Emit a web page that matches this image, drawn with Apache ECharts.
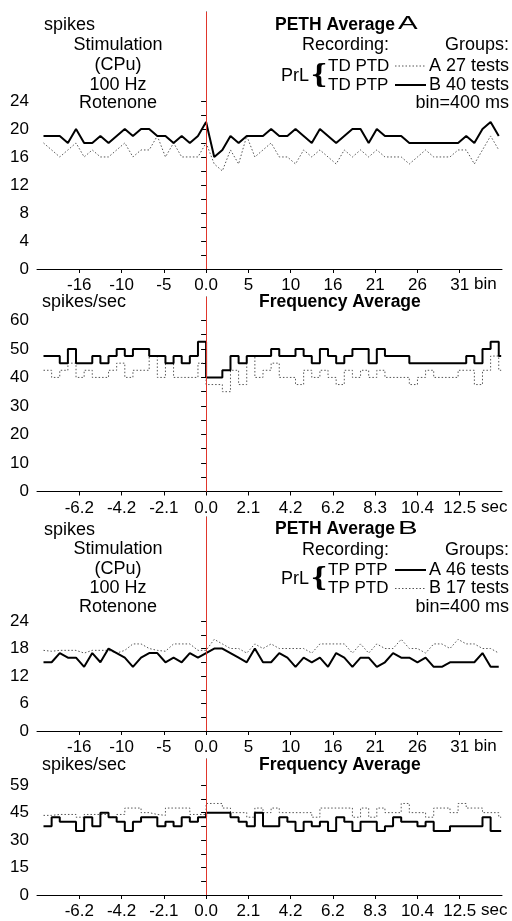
<!DOCTYPE html>
<html><head><meta charset="utf-8">
<script src="https://cdn.jsdelivr.net/npm/echarts@6.0.0/dist/echarts.min.js"></script>
<style>html,body{margin:0;padding:0;background:#fff;}#c{width:512px;height:921px;}</style>
</head><body><div id="c"></div>
<script>
// ---------- DATA ----------
const bins = [-20,-19,-18,-17,-16,-15,-14,-13,-12,-11,-10,-9,-8,-7,-6,-5,-4,-3,-2,-1,0,
  1,2,3,4,5,6,7,8,9,10,11,12,13,14,15,16,17,18,19,20,21,22,23,24,25,26,27,28,29,30,31,32,33,34,35,36];
const recordEnd = 36.3;

// PETH Average A (spikes per bin)
const pethA_groupA = [18,17,16,17,18,16,17,16,16,17,18,16,17,17,19,16,18,16,16,16,18,
  15,14,17,15,19,16,17,18,16,16,15,17,16,17,16,15,17,16,17,16,17,16,16,16,15,16,17,16,16,16,17,17,15,17,19,17];
const pethA_groupB = [19,19,19,18,20,18,18,19,18,19,20,19,20,20,19,19,18,19,18,19,21,
  16,17,19,18,19,19,19,20,19,19,20,19,18,20,19,18,19,20,20,18,20,19,19,19,18,18,18,18,18,18,18,19,18,20,21,19];
// Frequency Average A (spikes/sec, one value per step segment)
const freqA_groupA = [42.5,40,42.5,45,40,42.5,40,40,42.5,45,40,42.5,42.5,47.5,40,45,40,40,40,45,
  37.5,37.5,35,42.5,37.5,47.5,40,42.5,45,40,40,37.5,42.5,40,42.5,40,37.5,42.5,40,42.5,
  40,42.5,40,40,40,37.5,40,42.5,40,40,40,42.5,42.5,37.5,42.5,47.5,42.5];
const freqA_groupB = [47.5,47.5,45,50,45,45,47.5,45,47.5,50,47.5,50,50,47.5,47.5,45,47.5,45,47.5,52.5,
  40,40,42.5,47.5,45,47.5,47.5,47.5,50,47.5,47.5,50,47.5,45,50,47.5,45,47.5,50,50,
  45,50,47.5,47.5,47.5,45,45,45,45,45,45,45,47.5,45,50,52.5,47.5];
// PETH Average B
const pethB_groupA = [15,15,17,16,16,14,17,15,18,17,16,14,16,17,17,15,16,15,17,16,17,
  18,18,17,16,15,18,15,15,17,16,14,16,15,16,14,17,16,14,16,16,14,15,17,16,16,15,16,14,14,15,15,15,15,17,14,14];
const pethB_groupB = [17.6,17.4,17.6,17.6,17.6,17,17.6,17.6,17.6,17,17.6,19,19,18,17.6,17.4,19,19,19,17.6,17.6,
  20,19,18,18,17,19,18,19,18,18,18,18,17,19,19,19,19,17,19,17,19,18,18,20,18,18,17,19,19,18,20,19,19,18,18,17];
// Frequency Average B
const freqB_groupA = [37.5,42.5,40,40,35,42.5,37.5,45,42.5,40,35,40,42.5,42.5,37.5,40,37.5,42.5,40,42.5,
  45,45,45,42.5,40,37.5,45,37.5,37.5,42.5,40,35,40,37.5,40,35,42.5,40,35,40,
  40,35,37.5,42.5,40,40,37.5,40,35,35,37.5,37.5,37.5,37.5,42.5,35,35];
const freqB_groupB = [43.5,44,44,44,42.5,44,44,44,42.5,44,47.5,47.5,45,44,43.5,47.5,47.5,47.5,44,44,
  50,50,47.5,45,45,42.5,47.5,45,47.5,45,45,45,45,42.5,47.5,47.5,47.5,47.5,42.5,47.5,
  42.5,47.5,45,45,50,45,45,42.5,47.5,47.5,45,50,47.5,47.5,45,45,42.5];

// Tick values & labels
const xTickValues = [-15.6,-10.4,-5.2,0,5.2,10.4,15.6,20.8,26,31.2];
const xLabelsBin = ['-16','-10','-5','0.0','5','10','16','21','26','31'];
const xLabelsSec = ['-6.2','-4.2','-2.1','0.0','2.1','4.2','6.2','8.3','10.4','12.5'];
const yPethA_labels = [0,4,8,12,16,20,24];
const yPethA_ticks = [0,2,4,6,8,10,12,14,16,18,20,22,24];
const yFreqA_labels = [0,10,20,30,40,50,60];
const yFreqA_ticks = [0,5,10,15,20,25,30,35,40,45,50,55,60];
const yPethB_labels = [0,6,12,18,24];
const yPethB_ticks = [0,3,6,9,12,15,18,21,24];
const yFreqB_labels = [0,15,30,45,60];
const yFreqB_text = ['0','15','30','45','59'];
const yFreqB_ticks = [0,7.5,15,22.5,30,37.5,45,52.5,60];

// ---------- CHART ----------
const FONT = '"Liberation Sans", Arial, sans-serif';
const chart = echarts.init(document.getElementById('c'), null, {renderer:'canvas'});

const grids = [
  {left:37, right:10, top:12, height:257},
  {left:37, right:10, top:297, height:194.5},
  {left:37, right:10, top:517, height:214},
  {left:37, right:10, top:759, height:136}
];
const yMax = [36.7, 68.2, 46.7, 74.3];

function xAxisFor(i, labels, name, gap){
  return {
    type:'value', gridIndex:i, min:-20.8, max:36.4,
    name:name, nameLocation:'end', nameGap:gap,
    nameTextStyle:{fontSize:17, fontFamily:FONT, color:'#000', verticalAlign:'top', padding:[7,0,0,0]},
    axisLine:{show:true, onZero:false, lineStyle:{color:'#000', width:1}},
    axisTick:{show:true, length:4, customValues:xTickValues, lineStyle:{color:'#000'}},
    axisLabel:{show:true, customValues:xTickValues, margin:8, fontSize:17, fontFamily:FONT, color:'#000',
      formatter:function(v){
        const k = xTickValues.findIndex(t=>Math.abs(t-v)<1e-6);
        return k>=0 ? labels[k] : '';
      }},
    splitLine:{show:false}
  };
}
function yAxisFor(i, labelVals, labelText, tickVals){
  return {
    type:'value', gridIndex:i, min:0, max:yMax[i],
    axisLine:{show:true, lineStyle:{color:'#000', width:1}},
    axisTick:{show:true, length:5, customValues:tickVals, lineStyle:{color:'#000'}},
    axisLabel:{show:true, customValues:labelVals, margin:8, fontSize:17, fontFamily:FONT, color:'#000',
      formatter:function(v){
        const k = labelVals.findIndex(t=>Math.abs(t-v)<1e-6);
        return k>=0 ? labelText[k] : '';
      }},
    splitLine:{show:false}
  };
}

function lineData(vals){ return bins.map((b,i)=>[b, vals[i]]); }
function stepData(vals){ const d = bins.map((b,i)=>[b, vals[i]]); d.push([recordEnd, vals[vals.length-1]]); return d; }

const SOLID = {color:'#000', width:2, type:'solid'};
const DOTTED = {color:'#555', width:1, type:[1.5,2]};
const redLine = {silent:true, symbol:'none', animation:false, label:{show:false},
  lineStyle:{color:'#e0362c', width:1, type:'solid'}, emphasis:{disabled:true}, data:[{xAxis:0}]};

function ser(name, gi, data, style, step, withRed){
  const s = {name:name, type:'line', xAxisIndex:gi, yAxisIndex:gi, data:data,
    showSymbol:false, symbol:'none', lineStyle:style, itemStyle:{color:style.color},
    animation:false, silent:true, z: style.width>1 ? 3 : 2};
  if(step) s.step = 'end';
  if(withRed) s.markLine = redLine;
  return s;
}

function T(text, x, y, align, extra){
  return {type:'text', x:x, y:y, silent:true, z:10,
    style:Object.assign({text:text, fontSize:18, fontFamily:FONT, fill:'#000',
      align:align, verticalAlign:'middle', textAlign:align, textVerticalAlign:'middle'}, extra||{})};
}
function big(text, x, y){
  const t = T(text, x, y, 'left', {fontSize:19});
  t.scaleX = 1.55;
  return t;
}
function L(x1,y1,x2,y2,style){
  return {type:'line', silent:true, z:10, shape:{x1:x1,y1:y1,x2:x2,y2:y2}, style:style};
}
const BOLD = {fontWeight:'bold', fontSize:17.5};
const REC = {fontSize:17};
const BRACE = {fontSize:26, fontFamily:'"DejaVu Serif", serif', fontWeight:'bold'};
const legSolid = {stroke:'#000', lineWidth:2};
const legDot = {stroke:'#555', lineWidth:1, lineDash:[1.5,2]};

const graphics = [
  // Panel 1
  T('spikes', 44, 25, 'left'),
  T('Stimulation', 118, 45, 'center'),
  T('(CPu)', 118, 65, 'center'),
  T('100 Hz', 118, 85, 'center'),
  T('Rotenone', 118, 103, 'center'),
  T('PETH Average', 275, 25, 'left', BOLD),
  big('A', 398, 24),
  T('Recording:', 389, 45, 'right'),
  T('Groups:', 509, 45, 'right'),
  T('PrL', 295, 76, 'center'),
  T('{', 319, 76, 'center', BRACE),
  T('TD PTD', 328, 66, 'left', REC),
  T('TD PTP', 328, 85, 'left', REC),
  L(395, 66, 426, 66, legDot),
  L(395, 85, 426, 85, legSolid),
  T('A 27 tests', 509, 66, 'right'),
  T('B 40 tests', 509, 85, 'right'),
  T('bin=400 ms', 509, 103, 'right'),
  // Panel 2
  T('spikes/sec', 42, 302, 'left'),
  T('Frequency Average', 259, 302, 'left', BOLD),
  // Panel 3
  T('spikes', 44, 530, 'left'),
  T('Stimulation', 118, 549.5, 'center'),
  T('(CPu)', 118, 569, 'center'),
  T('100 Hz', 118, 588.5, 'center'),
  T('Rotenone', 118, 607, 'center'),
  T('PETH Average', 275, 529.5, 'left', BOLD),
  big('B', 398, 528.5),
  T('Recording:', 389, 550, 'right'),
  T('Groups:', 509, 550, 'right'),
  T('PrL', 295, 579, 'center'),
  T('{', 319, 579, 'center', BRACE),
  T('TP PTP', 328, 570, 'left', REC),
  T('TP PTD', 328, 588.5, 'left', REC),
  L(395, 570, 426, 570, legSolid),
  L(395, 588.5, 426, 588.5, legDot),
  T('A 46 tests', 509, 570, 'right'),
  T('B 17 tests', 509, 588.5, 'right'),
  T('bin=400 ms', 509, 607, 'right'),
  // Panel 4
  T('spikes/sec', 42, 765, 'left'),
  T('Frequency Average', 259, 765, 'left', BOLD)
];

const option = {
  animation:false,
  backgroundColor:'#fff',
  grid: grids.map(g=>Object.assign({containLabel:false, outerBoundsMode:'none'}, g)),
  xAxis:[
    xAxisFor(0, xLabelsBin, 'bin', -28),
    xAxisFor(1, xLabelsSec, 'sec', -21),
    xAxisFor(2, xLabelsBin, 'bin', -28),
    xAxisFor(3, xLabelsSec, 'sec', -21)
  ],
  yAxis:[
    yAxisFor(0, yPethA_labels, yPethA_labels.map(String), yPethA_ticks),
    yAxisFor(1, yFreqA_labels, yFreqA_labels.map(String), yFreqA_ticks),
    yAxisFor(2, yPethB_labels, yPethB_labels.map(String), yPethB_ticks),
    yAxisFor(3, yFreqB_labels, yFreqB_text, yFreqB_ticks)
  ],
  series:[
    ser('A 27 tests', 0, lineData(pethA_groupA), DOTTED, false, true),
    ser('B 40 tests', 0, lineData(pethA_groupB), SOLID, false, false),
    ser('A 27 tests freq', 1, stepData(freqA_groupA), DOTTED, true, true),
    ser('B 40 tests freq', 1, stepData(freqA_groupB), SOLID, true, false),
    ser('A 46 tests', 2, lineData(pethB_groupA), SOLID, false, true),
    ser('B 17 tests', 2, lineData(pethB_groupB), DOTTED, false, false),
    ser('A 46 tests freq', 3, stepData(freqB_groupA), SOLID, true, true),
    ser('B 17 tests freq', 3, stepData(freqB_groupB), DOTTED, true, false)
  ],
  graphic: graphics
};
chart.setOption(option);
</script>
</body></html>
